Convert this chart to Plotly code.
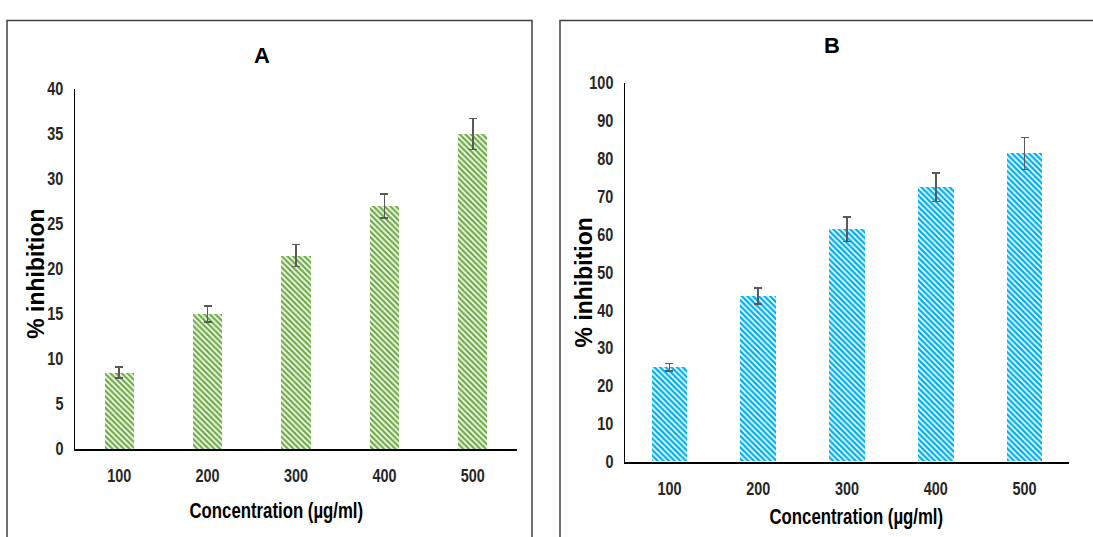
import plotly.graph_objects as go

W, H = 1093, 537

categories = ["100", "200", "300", "400", "500"]
inhib_A = [8.5, 15.0, 21.5, 27.0, 35.0]
err_A = [0.6, 0.9, 1.2, 1.35, 1.7]
inhib_B = [24.9, 43.7, 61.4, 72.5, 81.4]
err_B = [1.0, 2.1, 3.2, 3.8, 4.2]

green = "#70AD47"
blue = "#00B0F0"
sans = "Liberation Sans, Arial, sans-serif"
tick_font = dict(family=sans, size=18, color="#262626", weight="bold")
title_font = dict(family=sans, size=22, color="#000000", weight="bold")
ylab_font = dict(family=sans, size=23, color="#000000", weight="bold")
cond_font = dict(family=sans, size=21.5, color="#000000", weight="bold")

def px(x):
    return x / W

def py(y):
    return (H - y) / H

fig = go.Figure()

fig.add_trace(go.Bar(
    x=categories, y=inhib_A, xaxis="x", yaxis="y", width=0.33,
    marker=dict(color=green, line=dict(width=0),
                pattern=dict(shape="\\", fgcolor=green, bgcolor="white", size=4,
                             solidity=0.6, fgopacity=1, fillmode="replace")),
    error_y=dict(type="data", array=err_A, color="#595959", thickness=1.5, width=4),
    showlegend=False,
))
fig.add_trace(go.Bar(
    x=categories, y=inhib_B, xaxis="x2", yaxis="y2", width=0.4,
    marker=dict(color=blue, line=dict(width=0),
                pattern=dict(shape="\\", fgcolor=blue, bgcolor="white", size=4,
                             solidity=0.6, fgopacity=1, fillmode="replace")),
    error_y=dict(type="data", array=err_B, color="#595959", thickness=1.5, width=4),
    showlegend=False,
))

common_x = dict(type="category", showline=True, linecolor="#000000", linewidth=1.5,
                showgrid=False, ticks="", tickfont=tick_font, ticklabelstandoff=10, zeroline=False)
common_y = dict(showline=True, linecolor="#000000", linewidth=1, showgrid=False, ticks="",
                tickfont=tick_font, ticklabelstandoff=7, zeroline=False)

fig.update_layout(
    width=W, height=H,
    margin=dict(l=0, r=0, t=0, b=0),
    paper_bgcolor="white", plot_bgcolor="white",
    xaxis=dict(domain=[px(75), px(517)], anchor="y", **common_x),
    yaxis=dict(domain=[py(456), py(82)], anchor="x", range=[0, 40], dtick=5, **common_y),
    xaxis2=dict(domain=[px(625), px(1069)], anchor="y2", **common_x),
    yaxis2=dict(domain=[py(469), py(76)], anchor="x2", range=[0, 100], dtick=10, **common_y),
    bargap=0,
)

# Panel borders
fig.add_shape(type="rect", xref="paper", yref="paper", x0=px(7), x1=px(532), y0=-0.05, y1=py(11),
              line=dict(color="#404040", width=1.5), fillcolor="rgba(0,0,0,0)", layer="below")
fig.add_shape(type="rect", xref="paper", yref="paper", x0=px(560), x1=1.05, y0=-0.05, y1=py(11),
              line=dict(color="#404040", width=1.5), fillcolor="rgba(0,0,0,0)", layer="below")

annos = [
    dict(text="A", x=px(262), y=py(47), font=title_font),
    dict(text="B", x=px(832), y=py(37), font=title_font),
    dict(text="% inhibition", x=px(36), y=py(274), textangle=-90, font=ylab_font),
    dict(text="% inhibition", x=px(584), y=py(283), textangle=-90, font=ylab_font),
    dict(text="Concentration (µg/ml)", x=px(276), y=py(520), font=cond_font),
    dict(text="Concentration (µg/ml)", x=px(856), y=py(527), font=cond_font),
]
for a in annos:
    fig.add_annotation(xref="paper", yref="paper", showarrow=False, xanchor="center", yanchor="middle", **a)

# Narrow (Arial-Narrow-like) rendering of tick labels and x titles by horizontally compressing real SVG text,
# keeping each label's anchor point (start / middle / end) where Plotly put it.
post = """
document.body.style.margin='0';
document.body.style.overflow='hidden';
function squeeze(el, f){
  var b0 = el.getBBox();
  var L = el.getComputedTextLength();
  el.setAttribute('textLength', (L*f).toFixed(2));
  el.setAttribute('lengthAdjust', 'spacingAndGlyphs');
  var b1 = el.getBBox();
  var a = el.getAttribute('text-anchor') || 'start';
  var shift = 0;
  if (a === 'end') { shift = (b0.x + b0.width) - (b1.x + b1.width); }
  else if (a === 'middle') { shift = (b0.x + b0.width/2) - (b1.x + b1.width/2); }
  else { shift = b0.x - b1.x; }
  var x = parseFloat(el.getAttribute('x') || '0');
  el.setAttribute('x', (x + shift).toFixed(2));
}
document.querySelectorAll('.xtick text, .ytick text, .x2tick text, .y2tick text').forEach(function(t){ squeeze(t, 0.8); });
document.querySelectorAll('.annotation-text').forEach(function(t){
  if (t.textContent.indexOf('Concentration') === 0) { squeeze(t, 0.78); }
});
"""

fig.write_html("out.html", config={"displayModeBar": False}, post_script=post)
